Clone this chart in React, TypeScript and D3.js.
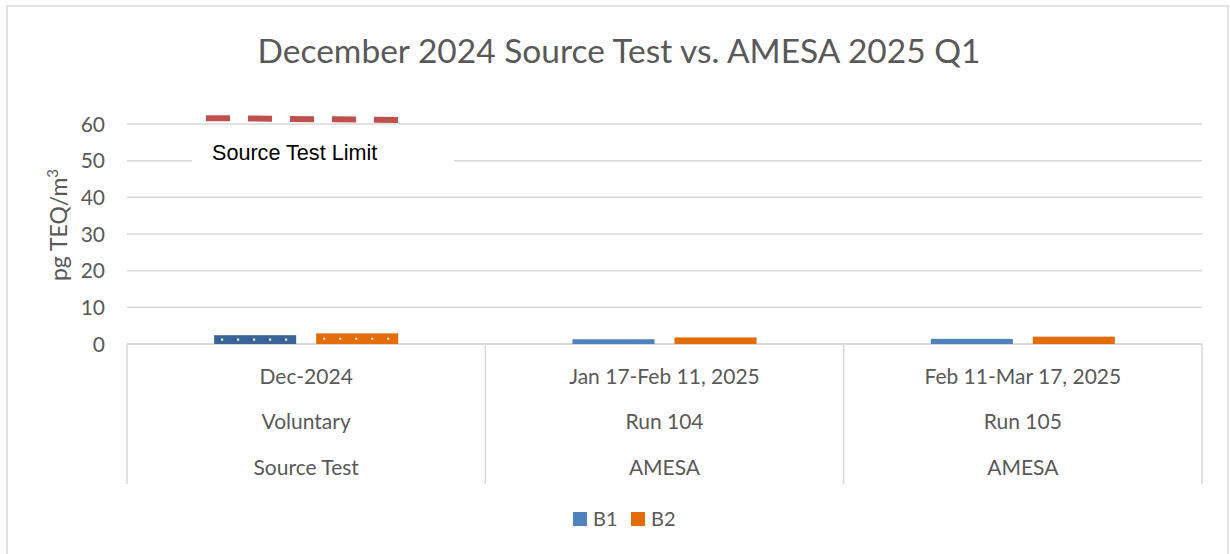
import React from "react";
import * as d3 from "d3";

const categories = ["Dec-2024", "Jan 17-Feb 11, 2025", "Feb 11-Mar 17, 2025"];
const subLabels = ["Voluntary", "Run 104", "Run 105"];
const groupLabels = ["Source Test", "AMESA", "AMESA"];
const seriesNames = ["B1", "B2"];
const b1Values = [2.4, 1.3, 1.4];
const b2Values = [2.9, 1.8, 2.0];
const limitValues = [61.6, 61.1];
const yTicks = [0, 10, 20, 30, 40, 50, 60];

const W = 1230;
const H = 554;
const FONT = "Lato, 'Open Sans', sans-serif";
const GREY = "#595959";
const GRID = "#D9D9D9";

export default function App() {
  const x0 = d3.scaleBand<string>().domain(categories).range([127, 1202]).paddingInner(0).paddingOuter(0);
  const bw = x0.bandwidth();
  const x1 = d3.scaleBand<string>().domain(seriesNames).range([0, bw]).paddingInner(0.196).paddingOuter(0.854);
  const y = d3.scaleLinear().domain([0, 60]).range([344, 124]);
  const colors = ["#4F81BD", "#E36C09"];
  const patColors = ["#3B6496", "#E36C09"];
  const series = [b1Values, b2Values];
  const bottom = 484;

  const g0 = x0(categories[0])!;
  const limX = [g0 + 79, g0 + (x1("B2")! + x1.bandwidth())];
  const limitLine = d3.line<number>().x((_, i) => limX[i]).y((d) => y(d));

  return (
    <svg width={W} height={H} style={{ position: "absolute", left: 0, top: 0, background: "#fff" }} fontFamily={FONT}>
      <defs>
        {seriesNames.map((s, si) => {
          const v = series[si][0];
          const top = y(v);
          const mid = (top + y(0)) / 2;
          const xb = g0 + x1(s)!;
          return (
            <pattern key={s} id={`pat${si}`} patternUnits="userSpaceOnUse" width={16} height={40} x={xb} y={mid - 1}>
              <rect width={16} height={40} fill={patColors[si]} />
              <rect x={7} y={0} width={2} height={2} fill="#fff" />
            </pattern>
          );
        })}
      </defs>
      <rect x={7} y={6} width={1221} height={560} fill="none" stroke={GRID} strokeWidth={1.5} />
      <text x={619} y={63} textAnchor="middle" fontSize={33.5} fill={GREY}>
        December 2024 Source Test vs. AMESA 2025 Q1
      </text>

      {yTicks.map((t) => (
        <g key={t}>
          <line x1={127} x2={1202} y1={y(t)} y2={y(t)} stroke={GRID} strokeWidth={t === 0 ? 2 : 1.5} />
          <text x={105} y={y(t) + 7.5} textAnchor="end" fontSize={21} fill={GREY}>{t}</text>
        </g>
      ))}

      {[...categories.map((c) => x0(c)!), 1202].map((xv, i) => (
        <line key={i} x1={xv} x2={xv} y1={y(0)} y2={bottom} stroke={GRID} strokeWidth={1.5} />
      ))}

      <text transform={`translate(67,225) rotate(-90)`} textAnchor="middle" fontSize={23} fill={GREY}>
        pg TEQ/m<tspan fontSize={15} dy={-9}>3</tspan>
      </text>

      {categories.map((c, ci) => (
        <g key={c}>
          {seriesNames.map((s, si) => {
            const v = series[si][ci];
            const xb = x0(c)! + x1(s)!;
            const fill = ci === 0 ? `url(#pat${si})` : colors[si];
            return (
              <rect key={s} x={xb} y={y(v)} width={x1.bandwidth()} height={y(0) - y(v)} fill={fill} />
            );
          })}
          <text x={x0(c)! + bw / 2} y={384} textAnchor="middle" fontSize={21} fill={GREY}>{c}</text>
          <text x={x0(c)! + bw / 2} y={429} textAnchor="middle" fontSize={21} fill={GREY}>{subLabels[ci]}</text>
          <text x={x0(c)! + bw / 2} y={475} textAnchor="middle" fontSize={21} fill={GREY}>{groupLabels[ci]}</text>
        </g>
      ))}

      <path d={limitLine(limitValues) || ""} fill="none" stroke="#C0504D" strokeWidth={6} strokeDasharray="24 18" />
      <rect x={192} y={141} width={262} height={28} fill="#fff" />
      <text x={212} y={160} fontSize={21.6} fill="#000" fontFamily="'Liberation Sans', Arial, sans-serif">Source Test Limit</text>

      {seriesNames.map((s, i) => {
        const lx = [573, 631][i];
        return (
          <g key={s}>
            <rect x={lx} y={512} width={14} height={14} fill={colors[i]} />
            <text x={lx + 20} y={526} fontSize={20} fill={GREY}>{s}</text>
          </g>
        );
      })}
    </svg>
  );
}
